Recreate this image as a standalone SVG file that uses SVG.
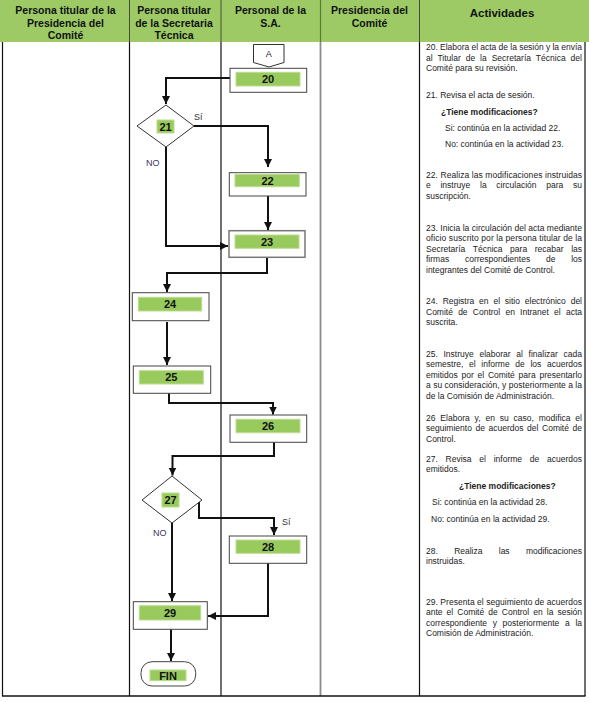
<svg xmlns="http://www.w3.org/2000/svg" width="589" height="702" viewBox="0 0 589 702">
<style>
.hd{font-family:"Liberation Sans",Arial,sans-serif;font-weight:bold;font-size:10.5px;fill:#111;text-anchor:middle}
.tx{font-family:"Liberation Sans",Arial,sans-serif;font-size:8.5px;fill:#222}
.tb{font-family:"Liberation Sans",Arial,sans-serif;font-size:8.5px;font-weight:bold;fill:#222}
.num{font-family:"Liberation Sans",Arial,sans-serif;font-size:11px;font-weight:bold;fill:#111;text-anchor:middle}
.lbl{font-family:"Liberation Sans",Arial,sans-serif;font-size:9px;fill:#333}
.no{font-family:"Liberation Sans",Arial,sans-serif;font-size:9px;fill:#3b3663}
.box{fill:#fff;stroke:#444;stroke-width:1}
.bar{fill:#98ca5e;stroke:#bcdd90;stroke-width:1}
.con{fill:none;stroke:#111;stroke-width:2}
.col{stroke:#111;stroke-width:1.2}
</style>
<defs>
<marker id="ah" markerUnits="userSpaceOnUse" markerWidth="9" markerHeight="9" refX="8" refY="4" orient="auto">
<path d="M0,0 L8,4 L0,8 z" fill="#111"/>
</marker>
</defs>

<g id="table">
<rect x="0" y="0" width="589" height="42" fill="#9dca64"/>
<line x1="129.5" y1="0" x2="129.5" y2="42" stroke="#4a4a3a" stroke-width="1"/>
<line x1="221" y1="0" x2="221" y2="42" stroke="#4a4a3a" stroke-width="1"/>
<line x1="320.5" y1="0" x2="320.5" y2="42" stroke="#5a7a3a" stroke-width="1.2"/>
<line x1="419.5" y1="0" x2="419.5" y2="42" stroke="#4a4a3a" stroke-width="1"/>
<line class="col" x1="2.5" y1="42" x2="2.5" y2="696"/>
<line class="col" x1="129.5" y1="42" x2="129.5" y2="696"/>
<line class="col" x1="221" y1="42" x2="221" y2="696"/>
<line x1="320.5" y1="42" x2="320.5" y2="696" stroke="#8c8c8c" stroke-width="1.8"/>
<line class="col" x1="419.5" y1="42" x2="419.5" y2="696"/>
<line class="col" x1="585" y1="42" x2="585" y2="696"/>
<line x1="2" y1="696" x2="585.5" y2="696" stroke="#111" stroke-width="1.5"/>
<text class="hd" x="65.5" y="14">Persona titular de la</text>
<text class="hd" x="65.5" y="26.5">Presidencia del</text>
<text class="hd" x="65.5" y="39">Comité</text>
<text class="hd" x="174" y="14">Persona titular</text>
<text class="hd" x="174" y="26.5">de la Secretaria</text>
<text class="hd" x="174" y="39">Técnica</text>
<text class="hd" x="270.5" y="14">Personal de la</text>
<text class="hd" x="270.5" y="26.5">S.A.</text>
<text class="hd" x="369.5" y="14">Presidencia del</text>
<text class="hd" x="369.5" y="26.5">Comité</text>
<text class="hd" x="502" y="16.5" style="font-size:11.5px">Actividades</text>
</g>

<g id="activities">
<text class="tx" x="426" y="50" textLength="156" lengthAdjust="spacing">20. Elabora el acta de la sesión y la envía</text>
<text class="tx" x="426" y="60.5" word-spacing="2.5" textLength="156" lengthAdjust="spacing">al Titular de la Secretaría Técnica del</text>
<text class="tx" x="426" y="71">Comité para su revisión.</text>

<text class="tx" x="426" y="97.5">21. Revisa el acta de sesión.</text>
<text class="tb" x="441" y="115">¿Tiene modificaciones?</text>
<text class="tx" x="445" y="131">Si: continúa en la actividad 22.</text>
<text class="tx" x="445" y="146.5">No: continúa en la actividad 23.</text>

<text class="tx" x="426" y="177.5" textLength="156" lengthAdjust="spacing">22. Realiza las modificaciones instruidas</text>
<text class="tx" x="426" y="188" word-spacing="7.4" textLength="156" lengthAdjust="spacing">e instruye la circulación para su</text>
<text class="tx" x="426" y="198.5">suscripción.</text>

<text class="tx" x="426" y="230.5" textLength="156" lengthAdjust="spacing">23. Inicia la circulación del acta mediante</text>
<text class="tx" x="426" y="241" textLength="156" lengthAdjust="spacing">oficio suscrito por la persona titular de la</text>
<text class="tx" x="426" y="251.5" word-spacing="5.2" textLength="156" lengthAdjust="spacing">Secretaría Técnica para recabar las</text>
<text class="tx" x="426" y="262" word-spacing="13.4" textLength="156" lengthAdjust="spacing">firmas correspondientes de los</text>
<text class="tx" x="426" y="272.5">integrantes del Comité de Control.</text>

<text class="tx" x="426" y="304" word-spacing="2.5" textLength="156" lengthAdjust="spacing">24. Registra en el sitio electrónico del</text>
<text class="tx" x="426" y="314.5" word-spacing="2.8" textLength="156" lengthAdjust="spacing">Comité de Control en Intranet el acta</text>
<text class="tx" x="426" y="325">suscrita.</text>

<text class="tx" x="426" y="356.5" word-spacing="3.3" textLength="156" lengthAdjust="spacing">25. Instruye elaborar al finalizar cada</text>
<text class="tx" x="426" y="367" word-spacing="3.3" textLength="156" lengthAdjust="spacing">semestre, el informe de los acuerdos</text>
<text class="tx" x="426" y="377.5" word-spacing="1.4" textLength="156" lengthAdjust="spacing">emitidos por el Comité para presentarlo</text>
<text class="tx" x="426" y="388" textLength="156" lengthAdjust="spacing">a su consideración, y posteriormente a la</text>
<text class="tx" x="426" y="398.5">de la Comisión de Administración.</text>

<text class="tx" x="426" y="420.5" word-spacing="2.4" textLength="156" lengthAdjust="spacing">26 Elabora y, en su caso, modifica el</text>
<text class="tx" x="426" y="431" word-spacing="1.2" textLength="156" lengthAdjust="spacing">seguimiento de acuerdos del Comité de</text>
<text class="tx" x="426" y="441.5">Control.</text>

<text class="tx" x="426" y="461.5" word-spacing="5.4" textLength="156" lengthAdjust="spacing">27. Revisa el informe de acuerdos</text>
<text class="tx" x="426" y="472">emitidos.</text>
<text class="tb" x="459" y="488.5">¿Tiene modificaciones?</text>
<text class="tx" x="432" y="504.5">Si: continúa en la actividad 28.</text>
<text class="tx" x="431" y="521.5">No: continúa en la actividad 29.</text>

<text class="tx" x="426" y="553.5" word-spacing="14" textLength="156" lengthAdjust="spacing">28. Realiza las modificaciones</text>
<text class="tx" x="426" y="564">instruidas.</text>

<text class="tx" x="426" y="604.5" textLength="156" lengthAdjust="spacing">29. Presenta el seguimiento de acuerdos</text>
<text class="tx" x="426" y="615" word-spacing="1.7" textLength="156" lengthAdjust="spacing">ante el Comité de Control en la sesión</text>
<text class="tx" x="426" y="625.5" word-spacing="3.3" textLength="156" lengthAdjust="spacing">correspondiente y posteriormente a la</text>
<text class="tx" x="426" y="636">Comisión de Administración.</text>
</g>

<g id="connectors">
<path class="con" d="M230,78 H166 V104" marker-end="url(#ah)"/>
<path class="con" d="M194,126 H268 V167" marker-end="url(#ah)"/>
<path class="con" d="M166,147 V246 H228" marker-end="url(#ah)"/>
<path class="con" d="M268,196 V230" marker-end="url(#ah)"/>
<path class="con" d="M267,258 V273 H167 V292" marker-end="url(#ah)"/>
<path class="con" d="M167,322 V365" marker-end="url(#ah)"/>
<path class="con" d="M169,393 V403 H273 V414.5" marker-end="url(#ah)"/>
<path class="con" d="M274,442 V456 H172.5 V475.5" marker-end="url(#ah)"/>
<path class="con" d="M199,501 V518 H274 V535" marker-end="url(#ah)"/>
<path class="con" d="M172,523 V601" marker-end="url(#ah)"/>
<path class="con" d="M268,563 V616 H208" marker-end="url(#ah)"/>
<path class="con" d="M171,629 V661" marker-end="url(#ah)"/>
<text class="lbl" x="194" y="119.5">Sí</text>
<text class="no" x="146" y="165.5">NO</text>
<text class="lbl" x="282" y="525">Sí</text>
<text class="no" x="153" y="536">NO</text>
</g>

<g id="nA">
<polygon points="253.5,44.5 284,44.5 284,62.5 269,67 253.5,62.5" fill="#fff" stroke="#333" stroke-width="1"/>
<text class="lbl" x="268.8" y="57" text-anchor="middle" style="fill:#223">A</text>
</g>

<g id="n20">
<rect class="box" x="230" y="68.3" width="76.7" height="24"/>
<rect class="bar" x="236" y="72.3" width="64" height="13.7"/>
<text class="num" x="268" y="83.2">20</text>
</g>

<g id="n21">
<polygon points="137,126 166,105 194,126 166,147" fill="#fff" stroke="#333" stroke-width="1"/>
<rect class="bar" x="157" y="120" width="17" height="13"/>
<text class="num" x="165.5" y="130.5">21</text>
</g>

<g id="n22">
<rect class="box" x="229.3" y="172.7" width="76.7" height="23.3"/>
<rect class="bar" x="235" y="174.5" width="64.3" height="12.2"/>
<text class="num" x="267.5" y="184.5">22</text>
</g>

<g id="n23">
<rect x="229" y="230.7" width="76" height="26.6" fill="#fff" stroke="#777" stroke-width="1.5"/>
<rect class="bar" x="235" y="235" width="64" height="13.3"/>
<text class="num" x="267" y="245.7">23</text>
</g>

<g id="n24">
<rect class="box" x="132.3" y="292.7" width="76.7" height="28"/>
<rect class="bar" x="138.3" y="297.3" width="63.4" height="13.7"/>
<text class="num" x="170" y="308">24</text>
</g>

<g id="n25">
<rect class="box" x="133.3" y="366" width="77.4" height="27.3"/>
<rect class="bar" x="139.3" y="370.7" width="64" height="13.3"/>
<text class="num" x="171.3" y="381.3">25</text>
</g>

<g id="n26">
<rect class="box" x="230" y="415" width="76.7" height="27.3"/>
<rect class="bar" x="236" y="419.3" width="64" height="13.4"/>
<text class="num" x="268" y="430">26</text>
</g>

<g id="n27">
<polygon points="142,500 172,476 202,500 172,523" fill="#fff" stroke="#333" stroke-width="1"/>
<rect class="bar" x="162" y="493" width="17" height="14"/>
<text class="num" x="170.5" y="504">27</text>
</g>

<g id="n28">
<rect class="box" x="229.3" y="536" width="77.4" height="27.3"/>
<rect class="bar" x="236" y="540" width="64" height="13.3"/>
<text class="num" x="268" y="550.7">28</text>
</g>

<g id="n29">
<rect class="box" x="133.3" y="601.7" width="74" height="27.6"/>
<rect class="bar" x="139.3" y="605.7" width="61.4" height="14.3"/>
<text class="num" x="170" y="616.8">29</text>
</g>

<g id="nFIN">
<rect class="box" x="141" y="661.7" width="54.7" height="24.3" rx="11" ry="11"/>
<rect class="bar" x="150" y="670" width="36" height="10.7"/>
<text class="num" x="168" y="679.5">FIN</text>
</g>
</svg>
